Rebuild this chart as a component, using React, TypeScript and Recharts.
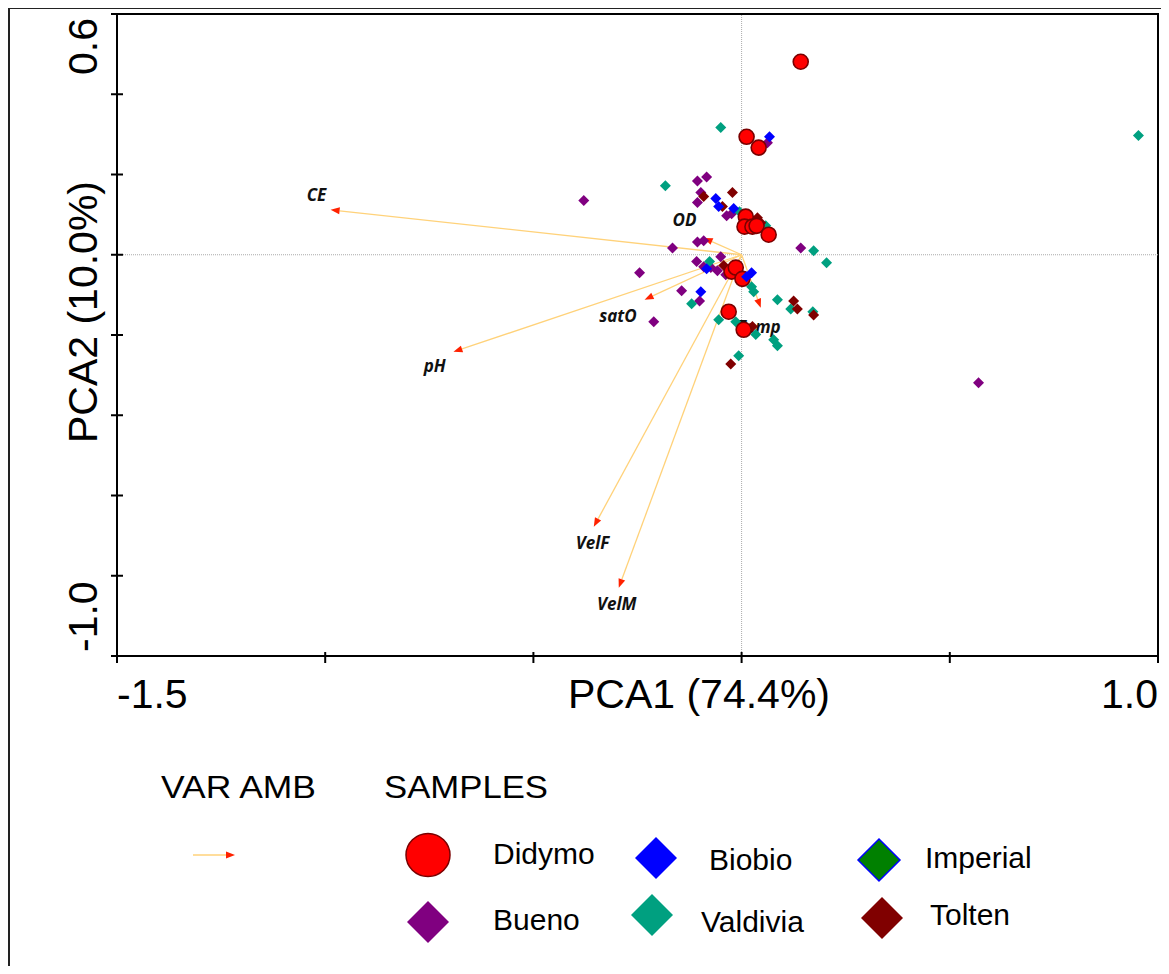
import {
  ScatterChart,
  Scatter,
  XAxis,
  YAxis,
  ReferenceLine,
  ReferenceArea,
} from "recharts";

// axes
const xTicks = [-1.5, -1, -0.5, 0, 0.5, 1];
const xTickLabels = ["-1.5", "", "", "", "", "1.0"];
const yTicks = [-1, -0.8, -0.6, -0.4, -0.2, 0, 0.2, 0.4, 0.6];
const yTickLabels = ["-1.0", "", "", "", "", "", "", "", "0.6"];

// environmental variable vectors (arrow tips) and where their names sit
const envVars = [
  { name: "CE", x: -0.987, y: 0.112, lx: -1.021, ly: 0.145 },
  { name: "pH", x: -0.692, y: -0.242, lx: -0.737, ly: -0.282 },
  { name: "satO", x: -0.233, y: -0.112, lx: -0.297, ly: -0.157 },
  { name: "OD", x: -0.091, y: 0.042, lx: -0.137, ly: 0.082 },
  { name: "Temp", x: 0.046, y: -0.132, lx: 0.041, ly: -0.184 },
  { name: "VelF", x: -0.355, y: -0.678, lx: -0.358, ly: -0.723 },
  { name: "VelM", x: -0.295, y: -0.83, lx: -0.3, ly: -0.875 },
];

// samples
const didymo = [
  { x: 0.142, y: 0.481 },
  { x: 0.012, y: 0.294 },
  { x: 0.041, y: 0.267 },
  { x: 0.01, y: 0.095 },
  { x: 0.007, y: 0.07 },
  { x: 0.026, y: 0.07 },
  { x: 0.036, y: 0.072 },
  { x: 0.065, y: 0.05 },
  { x: -0.024, y: -0.042 },
  { x: -0.014, y: -0.032 },
  { x: 0.002, y: -0.06 },
  { x: -0.031, y: -0.142 },
  { x: 0.005, y: -0.187 },
];

const biobio = [
  { x: 0.067, y: 0.294 },
  { x: -0.062, y: 0.14 },
  { x: -0.055, y: 0.12 },
  { x: -0.019, y: 0.115 },
  { x: -0.084, y: -0.035 },
  { x: 0.012, y: -0.055 },
  { x: 0.024, y: -0.045 },
  { x: -0.098, y: -0.092 },
];

const bueno = [
  { x: 0.062, y: 0.279 },
  { x: -0.106, y: 0.184 },
  { x: -0.084, y: 0.194 },
  { x: -0.098, y: 0.155 },
  { x: -0.106, y: 0.13 },
  { x: -0.036, y: 0.097 },
  { x: -0.024, y: 0.102 },
  { x: -0.379, y: 0.135 },
  { x: -0.166, y: 0.017 },
  { x: -0.106, y: 0.032 },
  { x: -0.091, y: 0.035 },
  { x: 0.142, y: 0.017 },
  { x: -0.108, y: -0.017 },
  { x: -0.05, y: -0.005 },
  { x: -0.091, y: -0.03 },
  { x: -0.074, y: -0.032 },
  { x: -0.058, y: -0.04 },
  { x: -0.038, y: -0.05 },
  { x: -0.245, y: -0.045 },
  { x: -0.144, y: -0.09 },
  { x: -0.101, y: -0.115 },
  { x: -0.211, y: -0.167 },
  { x: 0.569, y: -0.319 },
];

const valdivia = [
  { x: -0.05, y: 0.317 },
  { x: 0.953, y: 0.297 },
  { x: -0.183, y: 0.172 },
  { x: -0.005, y: 0.107 },
  { x: 0.024, y: 0.065 },
  { x: 0.058, y: 0.072 },
  { x: 0.173, y: 0.01 },
  { x: 0.204, y: -0.02 },
  { x: -0.077, y: -0.017 },
  { x: 0.024, y: -0.08 },
  { x: 0.029, y: -0.092 },
  { x: -0.12, y: -0.122 },
  { x: 0.086, y: -0.112 },
  { x: 0.118, y: -0.135 },
  { x: 0.171, y: -0.142 },
  { x: -0.055, y: -0.162 },
  { x: -0.014, y: -0.167 },
  { x: 0.034, y: -0.199 },
  { x: 0.077, y: -0.212 },
  { x: 0.086, y: -0.227 },
  { x: -0.007, y: -0.252 },
];

const tolten = [
  { x: -0.091, y: 0.145 },
  { x: -0.022, y: 0.155 },
  { x: -0.046, y: 0.12 },
  { x: 0.038, y: 0.092 },
  { x: 0.046, y: 0.08 },
  { x: -0.043, y: -0.027 },
  { x: 0.125, y: -0.115 },
  { x: 0.134, y: -0.135 },
  { x: 0.173, y: -0.15 },
  { x: 0.026, y: -0.179 },
  { x: -0.026, y: -0.272 },
];

const imperial: { x: number; y: number }[] = [];

const FONT = "'Liberation Sans', Arial, sans-serif";
const ARROW_LINE = "#FFD27A";
const ARROW_HEAD = "#FF2200";

const XTick = (p: any) => {
  const i = xTicks.indexOf(p.payload.value);
  const lab = xTickLabels[i];
  const ay = 656;
  return (
    <g>
      <line x1={p.x} x2={p.x} y1={ay - 4} y2={ay + 7} stroke="#000" strokeWidth={2} />
      {lab && (
        <text
          x={p.x}
          y={ay + 52}
          textAnchor={i === 0 ? "start" : "end"}
          fontSize={41}
          fontFamily={FONT}
          fill="#000"
        >
          {lab}
        </text>
      )}
    </g>
  );
};

const YTick = (p: any) => {
  const i = yTicks.indexOf(p.payload.value);
  const lab = yTickLabels[i];
  const ax = 117;
  const tx = ax - 20;
  const ty = i === 0 ? p.y - 4 : p.y + 4;
  return (
    <g>
      <line x1={ax - 6} x2={ax + 6} y1={p.y} y2={p.y} stroke="#000" strokeWidth={2} />
      {lab && (
        <text
          x={tx}
          y={ty}
          transform={`rotate(-90 ${tx} ${ty})`}
          textAnchor={i === 0 ? "start" : "end"}
          fontSize={41}
          fontFamily={FONT}
          fill="#000"
        >
          {lab}
        </text>
      )}
    </g>
  );
};

const arrowPath = (x1: number, y1: number, x2: number, y2: number, key?: string) => {
  const a = Math.atan2(y2 - y1, x2 - x1);
  const L = 9;
  const W = 3.5;
  const bx = x2 - L * Math.cos(a);
  const by = y2 - L * Math.sin(a);
  const pts = `${x2},${y2} ${bx - W * Math.sin(a)},${by + W * Math.cos(a)} ${bx + W * Math.sin(a)},${by - W * Math.cos(a)}`;
  return (
    <g key={key}>
      <line x1={x1} y1={y1} x2={bx} y2={by} stroke={ARROW_LINE} strokeWidth={1.3} />
      <polygon points={pts} fill={ARROW_HEAD} />
    </g>
  );
};

const ArrowShape = (p: any) => arrowPath(p.x1, p.y1, p.x2, p.y2);

const diamond = (fill: string, stroke?: string) => (p: any) => {
  const r = 5.5;
  const { cx, cy } = p;
  return (
    <polygon
      points={`${cx},${cy - r} ${cx + r},${cy} ${cx},${cy + r} ${cx - r},${cy}`}
      fill={fill}
      stroke={stroke || "none"}
    />
  );
};

const RedDot = (p: any) => (
  <circle cx={p.cx} cy={p.cy} r={7.5} fill="#FF0000" stroke="#7A0000" strokeWidth={1.6} />
);

const VarLabel = (p: any) => (
  <text
    x={p.cx}
    y={p.cy}
    textAnchor="middle"
    dominantBaseline="middle"
    fontSize={17}
    fontWeight="bold"
    fontStyle="italic"
    fontFamily="'Open Sans', Arial, sans-serif"
    fill="#111"
  >
    {p.payload.name}
  </text>
);

const legendItems = [
  { name: "Didymo", fill: "#FF0000", stroke: "#7A0000", circle: true, sx: 428, sy: 855, tx: 493, ty: 864 },
  { name: "Biobio", fill: "#0000FF", stroke: "none", circle: false, sx: 656, sy: 858, tx: 709, ty: 870 },
  { name: "Imperial", fill: "#008000", stroke: "#0000FF", circle: false, sx: 879, sy: 860, tx: 925, ty: 868 },
  { name: "Bueno", fill: "#800080", stroke: "none", circle: false, sx: 428, sy: 922, tx: 493, ty: 930 },
  { name: "Valdivia", fill: "#00A080", stroke: "none", circle: false, sx: 652, sy: 915, tx: 701, ty: 932 },
  { name: "Tolten", fill: "#800000", stroke: "none", circle: false, sx: 882, sy: 918, tx: 930, ty: 925 },
];

const App = () => {
  return (
    <div style={{ position: "relative", width: 1169, height: 974, margin: -8, background: "#fff", overflow: "hidden" }}>
      <ScatterChart
        width={1169}
        height={974}
        margin={{ top: 14, right: 11, bottom: 258, left: 57 }}
        style={{ position: "absolute", left: 0, top: 0 }}
      >
        <XAxis
          type="number"
          dataKey="x"
          domain={[-1.5, 1]}
          ticks={xTicks}
          interval={0}
          height={60}
          tickLine={false}
          axisLine={{ stroke: "#000", strokeWidth: 2 }}
          tick={XTick}
          allowDataOverflow
        />
        <YAxis
          type="number"
          dataKey="y"
          domain={[-1, 0.6]}
          ticks={yTicks}
          interval={0}
          width={60}
          tickLine={false}
          axisLine={{ stroke: "#000", strokeWidth: 2 }}
          tick={YTick}
          allowDataOverflow
        />
        <ReferenceArea x1={-1.5} x2={1} y1={-1} y2={0.6} fill="none" stroke="#000" strokeWidth={2} />
        <ReferenceLine x={0} stroke="#aaa" strokeDasharray="1 1" strokeWidth={1} />
        <ReferenceLine y={0} stroke="#aaa" strokeDasharray="1 1" strokeWidth={1} />
        {envVars.map((v) => (
          <ReferenceLine
            key={v.name}
            segment={[
              { x: 0, y: 0 },
              { x: v.x, y: v.y },
            ]}
            shape={ArrowShape}
          />
        ))}
        <Scatter
          name="labels"
          data={envVars.map((v) => ({ x: v.lx, y: v.ly, name: v.name }))}
          shape={VarLabel}
          isAnimationActive={false}
        />
        <Scatter name="Bueno" data={bueno} shape={diamond("#800080")} isAnimationActive={false} />
        <Scatter name="Valdivia" data={valdivia} shape={diamond("#00A080")} isAnimationActive={false} />
        <Scatter name="Tolten" data={tolten} shape={diamond("#800000")} isAnimationActive={false} />
        <Scatter name="Imperial" data={imperial} shape={diamond("#008000", "#0000FF")} isAnimationActive={false} />
        <Scatter name="Didymo" data={didymo} shape={RedDot} isAnimationActive={false} />
        <Scatter name="Biobio" data={biobio} shape={diamond("#0000FF")} isAnimationActive={false} />
      </ScatterChart>

      <svg
        width={1169}
        height={974}
        style={{ position: "absolute", left: 0, top: 0, pointerEvents: "none" }}
      >
        {/* outer frame */}
        <line x1={9} y1={8} x2={9} y2={974} stroke="#222" strokeWidth={2} />
        <line x1={9} y1={8} x2={1169} y2={8} stroke="#222" strokeWidth={2} />

        <text x={699} y={708} textAnchor="middle" fontSize={41} fontFamily={FONT} fill="#000">
          PCA1 (74.4%)
        </text>
        <text
          x={97}
          y={312}
          transform="rotate(-90 97 312)"
          textAnchor="middle"
          fontSize={41}
          fontFamily={FONT}
          fill="#000"
        >
          PCA2 (10.0%)
        </text>

        <text x={161} y={798} fontSize={31} fontFamily={FONT} fill="#000" textLength={155} lengthAdjust="spacingAndGlyphs">
          VAR AMB
        </text>
        <text x={384} y={798} fontSize={31} fontFamily={FONT} fill="#000" textLength={164} lengthAdjust="spacingAndGlyphs">
          SAMPLES
        </text>
        {arrowPath(193, 855, 235, 855, "legend-arrow")}

        {legendItems.map((it) => (
          <g key={it.name}>
            {it.circle ? (
              <ellipse cx={it.sx} cy={it.sy} rx={22} ry={21.5} fill={it.fill} stroke={it.stroke} strokeWidth={1.5} />
            ) : (
              <polygon
                points={`${it.sx},${it.sy - 21} ${it.sx + 21},${it.sy} ${it.sx},${it.sy + 21} ${it.sx - 21},${it.sy}`}
                fill={it.fill}
                stroke={it.stroke}
                strokeWidth={1.5}
              />
            )}
            <text x={it.tx} y={it.ty} fontSize={30} fontFamily={FONT} fill="#000">
              {it.name}
            </text>
          </g>
        ))}
      </svg>
    </div>
  );
};

export default App;
